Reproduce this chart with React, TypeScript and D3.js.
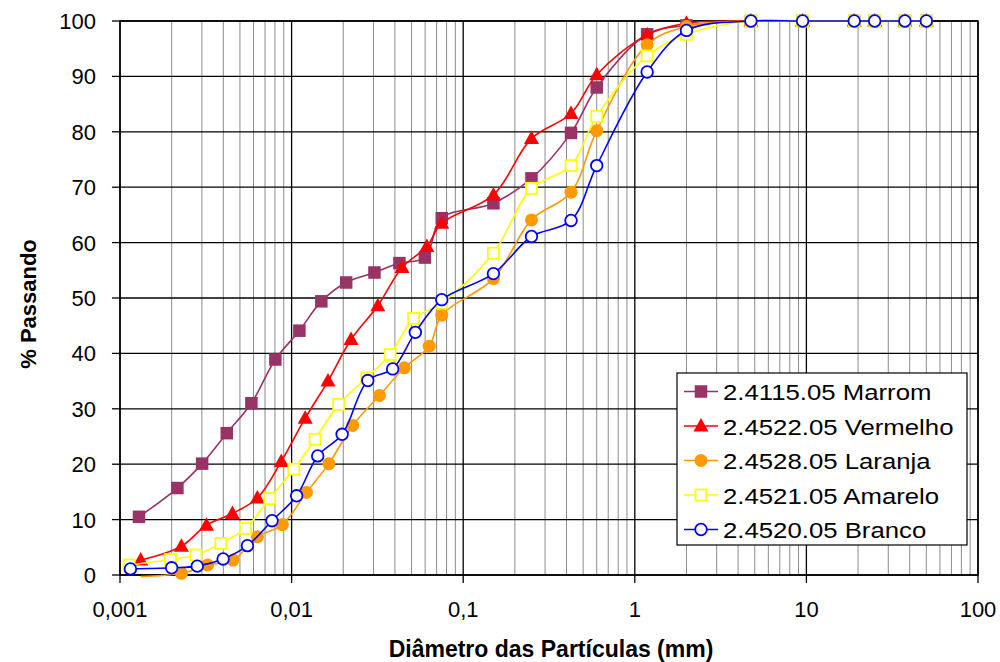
import React from "react";
import * as d3 from "d3";

// sieve sizes (mm) shared by every sample, then 100% passing from 4.75 mm up
const sieves = [0.075, 0.15, 0.25, 0.425, 0.6, 1.18, 2.0, 4.75, 9.5, 19, 25, 37.5, 50];

// sedimentation (hydrometer) diameters per sample
const marromDiam = [0.00129, 0.00216, 0.00301, 0.00419, 0.00583, 0.00804, 0.0111, 0.0149, 0.0208, 0.0304, 0.0425, 0.0598];
const vermelhoDiam = [0.00132, 0.00228, 0.00319, 0.00452, 0.00632, 0.00871, 0.012, 0.0163, 0.0222, 0.0318, 0.044, 0.0614];
const laranjaDiam = [0.00132, 0.00228, 0.00324, 0.00456, 0.00632, 0.00883, 0.0122, 0.0165, 0.0227, 0.0325, 0.0454, 0.0634];
const amareloDiam = [0.00113, 0.00197, 0.00277, 0.00387, 0.00538, 0.00745, 0.0103, 0.0137, 0.0188, 0.0274, 0.0375, 0.0514];
const brancoDiam = [0.00115, 0.002, 0.00282, 0.00399, 0.00553, 0.00769, 0.0107, 0.0142, 0.0197, 0.0278, 0.0388, 0.0526];

// % passing: hydrometer values then sieve values
const marromPass = [10.5, 15.7, 20.1, 25.6, 31.0, 38.9, 44.1, 49.4, 52.8, 54.6, 56.3, 57.3,
  64.4, 67.1, 71.6, 79.8, 88.0, 97.6, 99.2, 100, 100, 100, 100, 100, 100];
const vermelhoPass = [2.7, 5.2, 9.0, 11.1, 13.9, 20.5, 28.3, 35.0, 42.5, 48.6, 55.5, 59.3,
  63.5, 68.6, 78.8, 83.3, 90.3, 97.5, 99.6, 100, 100, 100, 100, 100, 100];
const laranjaPass = [-0.3, 0.3, 1.8, 2.7, 6.9, 9.1, 14.9, 20.1, 27.0, 32.4, 37.4, 41.3,
  46.9, 53.5, 64.1, 69.1, 80.2, 95.7, 99.0, 100, 100, 100, 100, 100, 100];
const amareloPass = [1.8, 2.8, 3.6, 5.7, 8.4, 13.8, 19.1, 24.5, 30.8, 35.6, 39.8, 46.3,
  49.1, 58.1, 69.8, 73.9, 82.8, 93.7, 97.6, 100, 100, 100, 100, 100, 100];
const brancoPass = [1.1, 1.3, 1.6, 2.9, 5.3, 9.8, 14.3, 21.5, 25.4, 35.1, 37.2, 43.8,
  49.7, 54.4, 61.1, 64.0, 73.9, 90.8, 98.3, 100, 100, 100, 100, 100, 100];

const seriesNames = ["2.4115.05 Marrom", "2.4522.05 Vermelho", "2.4528.05 Laranja", "2.4521.05 Amarelo", "2.4520.05 Branco"];
const xTicks = [0.001, 0.01, 0.1, 1, 10, 100];
const xTickLabels = ["0,001", "0,01", "0,1", "1", "10", "100"];
const yTicks = d3.range(0, 101, 10);

const series = [
  { name: seriesNames[0], diam: marromDiam, pass: marromPass, color: "#993366", marker: "square", fill: "#993366" },
  { name: seriesNames[1], diam: vermelhoDiam, pass: vermelhoPass, color: "#FF0000", marker: "triangle", fill: "#FF0000" },
  { name: seriesNames[2], diam: laranjaDiam, pass: laranjaPass, color: "#FF9900", marker: "circle", fill: "#FF9900" },
  { name: seriesNames[3], diam: amareloDiam, pass: amareloPass, color: "#FFFF00", marker: "square", fill: "#FFFFFF" },
  { name: seriesNames[4], diam: brancoDiam, pass: brancoPass, color: "#0000FF", marker: "circle", fill: "#FFFFFF" },
];

const font = "'Liberation Sans', Arial, sans-serif";
const width = 1000, height = 662;
const left = 120, right = 978, top = 21, bottom = 575;

const Marker = ({ type, cx, cy, color, fill }) => {
  const open = fill === "#FFFFFF";
  if (type === "square") {
    const s = open ? 11 : 12.5;
    return <rect x={cx - s / 2} y={cy - s / 2} width={s} height={s} fill={fill} stroke={color} strokeWidth={open ? 1.8 : 0} />;
  }
  if (type === "triangle") {
    const path = `M${cx},${cy - 8} L${cx + 7.5},${cy + 5.5} L${cx - 7.5},${cy + 5.5} Z`;
    return <path d={path} fill={fill} />;
  }
  return <circle cx={cx} cy={cy} r={open ? 5.8 : 6.5} fill={fill} stroke={open ? color : "none"} strokeWidth={1.8} />;
};

export default function App() {
  const x = d3.scaleLog().domain([0.001, 100]).range([left, right]);
  const y = d3.scaleLinear().domain([0, 100]).range([bottom, top]);

  const minor = [];
  for (let e = -3; e < 2; e++) {
    for (let k = 2; k <= 9; k++) minor.push(k * Math.pow(10, e));
  }

  const line = d3.line()
    .x(d => x(d[0]))
    .y(d => y(d[1]))
    .curve(d3.curveCatmullRom.alpha(0.5));

  const legendX = 677, legendY = 373, legendW = 290, legendH = 172, rowH = 34.5;

  return (
    <svg width={width} height={height} style={{ position: "absolute", left: 0, top: 0, background: "#fff" }} fontFamily={font}>
      <rect width={width} height={height} fill="#fff" />
      {/* minor vertical grid */}
      {minor.map((d, i) => (
        <line key={"m" + i} x1={x(d)} x2={x(d)} y1={top} y2={bottom} stroke="#8c8c8c" strokeWidth={1} />
      ))}
      {/* horizontal grid */}
      {yTicks.map(t => (
        <line key={"h" + t} x1={left} x2={right} y1={y(t)} y2={y(t)} stroke="#000" strokeWidth={1.3} />
      ))}
      {/* major vertical grid */}
      {xTicks.map(t => (
        <line key={"v" + t} x1={x(t)} x2={x(t)} y1={top} y2={bottom} stroke="#000" strokeWidth={1.3} />
      ))}
      <rect x={left} y={top} width={right - left} height={bottom - top} fill="none" stroke="#000" strokeWidth={1.5} />

      {/* y ticks */}
      {yTicks.map(t => (
        <g key={"yt" + t}>
          <line x1={left - 8} x2={left} y1={y(t)} y2={y(t)} stroke="#000" strokeWidth={1.3} />
          <text x={96} y={y(t)} dy="0.36em" textAnchor="end" fontSize={22}>{t}</text>
        </g>
      ))}
      {/* x ticks */}
      {xTicks.map((t, i) => (
        <g key={"xt" + t}>
          <line x1={x(t)} x2={x(t)} y1={bottom} y2={bottom + 8} stroke="#000" strokeWidth={1.3} />
          <text x={x(t)} y={617} textAnchor="middle" fontSize={22}>{xTickLabels[i]}</text>
        </g>
      ))}

      {/* series */}
      {series.map(s => {
        const pts = [...s.diam, ...sieves].map((d, i) => [d, s.pass[i]]);
        return (
          <g key={s.name}>
            <path d={line(pts)} fill="none" stroke={s.color} strokeWidth={1.6} />
            {pts.filter(p => p[1] >= 0).map((p, i) => (
              <Marker key={i} type={s.marker} cx={x(p[0])} cy={y(p[1])} color={s.color} fill={s.fill} />
            ))}
          </g>
        );
      })}

      {/* legend */}
      <rect x={legendX} y={legendY} width={legendW} height={legendH} fill="#fff" stroke="#000" strokeWidth={1.2} />
      {series.map((s, i) => {
        const cy = legendY + 18.5 + i * rowH;
        return (
          <g key={"lg" + i}>
            <line x1={legendX + 7} x2={legendX + 41} y1={cy} y2={cy} stroke={s.color} strokeWidth={1.6} />
            <Marker type={s.marker} cx={legendX + 24} cy={cy} color={s.color} fill={s.fill} />
            <text transform={`translate(${legendX + 46},${cy + 8.5}) scale(1.12,1)`} fontSize={23}>{s.name}</text>
          </g>
        );
      })}

      {/* axis titles */}
      <text x={(left + right) / 2 + 2} y={657} textAnchor="middle" fontSize={23} fontWeight="bold">
        Diâmetro das Partículas (mm)
      </text>
      <text transform={`translate(36, ${(top + bottom) / 2 + 6}) rotate(-90)`} textAnchor="middle" fontSize={22} fontWeight="bold">
        % Passando
      </text>
    </svg>
  );
}
